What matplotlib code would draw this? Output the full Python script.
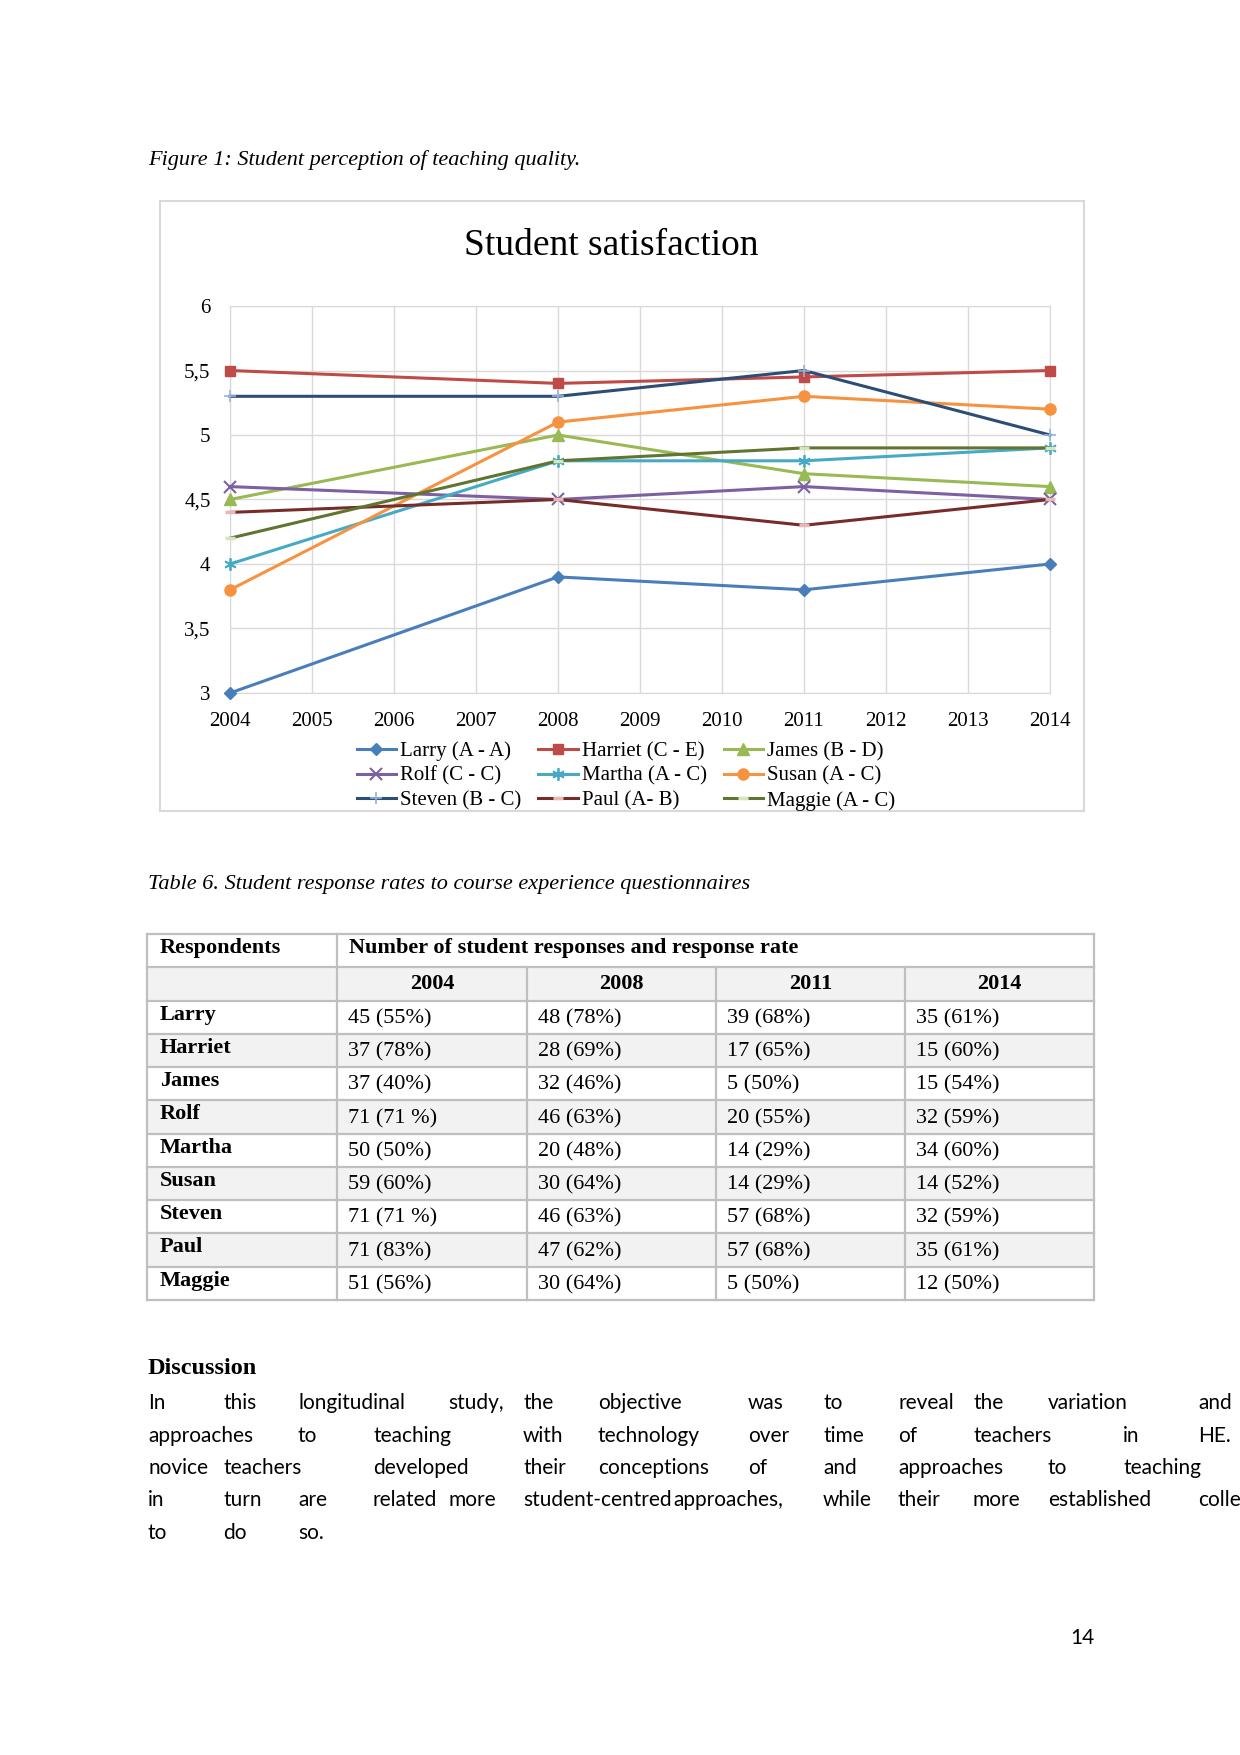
import numpy as np
import matplotlib
matplotlib.use("Agg")
import matplotlib.pyplot as plt
from matplotlib.patches import Rectangle
from matplotlib.ticker import FuncFormatter

# chart data
years = list(range(2004, 2015))
survey_years = [2004, 2008, 2011, 2014]
larry = [3.0, 3.9, 3.8, 4.0]
harriet = [5.5, 5.4, 5.45, 5.5]
james = [4.5, 5.0, 4.7, 4.6]
rolf = [4.6, 4.5, 4.6, 4.5]
martha = [4.0, 4.8, 4.8, 4.9]
susan = [3.8, 5.1, 5.3, 5.2]
steven = [5.3, 5.3, 5.5, 5.0]
paul = [4.4, 4.5, 4.3, 4.5]
maggie = [4.2, 4.8, 4.9, 4.9]

# table data
respondents = ["Larry", "Harriet", "James", "Rolf", "Martha", "Susan", "Steven", "Paul", "Maggie"]
table_years = ["2004", "2008", "2011", "2014"]
resp_2004 = ["45 (55%)", "37 (78%)", "37 (40%)", "71 (71 %)", "50 (50%)", "59 (60%)", "71 (71 %)", "71 (83%)", "51 (56%)"]
resp_2008 = ["48 (78%)", "28 (69%)", "32 (46%)", "46 (63%)", "20 (48%)", "30 (64%)", "46 (63%)", "47 (62%)", "30 (64%)"]
resp_2011 = ["39 (68%)", "17 (65%)", "5 (50%)", "20 (55%)", "14 (29%)", "14 (29%)", "57 (68%)", "57 (68%)", "5 (50%)"]
resp_2014 = ["35 (61%)", "15 (60%)", "15 (54%)", "32 (59%)", "34 (60%)", "14 (52%)", "32 (59%)", "35 (61%)", "12 (50%)"]

# discussion paragraph: (word, slot on the justified grid)
disc_lines = [
    [("In", 0), ("this", 1), ("longitudinal", 2), ("study,", 4), ("the", 5), ("objective", 6),
     ("was", 8), ("to", 9), ("reveal", 10), ("the", 11), ("variation", 12), ("and", 14)],
    [("approaches", 0), ("to", 2), ("teaching", 3), ("with", 5), ("technology", 6), ("over", 8),
     ("time", 9), ("of", 10), ("teachers", 11), ("in", 13), ("HE.", 14)],
    [("novice", 0), ("teachers", 1), ("developed", 3), ("their", 5), ("conceptions", 6), ("of", 8),
     ("and", 9), ("approaches", 10), ("to", 12), ("teaching", 13)],
    [("in", 0), ("turn", 1), ("are", 2), ("related", 3), ("more", 4), ("student-centred", 5),
     ("approaches,", 7), ("while", 9), ("their", 10), ("more", 11), ("established", 12), ("colle", 14)],
    [("to", 0), ("do", 1), ("so.", 2)],
]

SERIF = "Liberation Serif"
SANS = "Lato"

fig = plt.figure(figsize=(12.4, 17.55), dpi=100)
page = fig.add_axes([0, 0, 1, 1], zorder=0)
page.set_xlim(0, 1240)
page.set_ylim(1755, 0)
page.axis("off")

# captions
page.text(148, 160, "Figure 1: Student perception of teaching quality.", fontsize=16,
          family=SERIF, style="italic", va="center")
page.text(148, 884, "Table 6. Student response rates to course experience questionnaires", fontsize=16,
          family=SERIF, style="italic", va="center")

# chart frame and title
page.add_patch(Rectangle((160, 201), 924, 610, fill=False, ec="#D9D9D9", lw=1.5))
page.text(611, 246, "Student satisfaction", fontsize=27, family=SERIF, ha="center", va="center")

ax = fig.add_axes([230 / 1240, 1 - 693 / 1755, 820 / 1240, 387 / 1755], zorder=2)
series = [
    ("Larry (A - A)", larry, "#4A7EBB", dict(marker="D", ms=6.5, mfc="#4A7EBB", mec="#4A7EBB")),
    ("Harriet (C - E)", harriet, "#BE4B48", dict(marker="s", ms=7.5, mfc="#BE4B48", mec="#BE4B48")),
    ("James (B - D)", james, "#98B954", dict(marker="^", ms=8, mfc="#98B954", mec="#98B954")),
    ("Rolf (C - C)", rolf, "#7D60A0", dict(marker="x", ms=8, mew=1.5, mec="#7D60A0")),
    ("Martha (A - C)", martha, "#46AAC5", dict(marker=(6, 2, 0), ms=9, mew=1.3, mec="#46AAC5")),
    ("Susan (A - C)", susan, "#F69240", dict(marker="o", ms=8, mfc="#F69240", mec="#F69240")),
    ("Steven (B - C)", steven, "#2C4D75", dict(marker="+", ms=9, mew=1.2, mec="#95B3D7")),
    ("Paul (A- B)", paul, "#772C2A", dict(marker="_", ms=7, mew=2.5, mec="#E6B9B8")),
    ("Maggie (A - C)", maggie, "#5F7530", dict(marker="_", ms=7, mew=2.5, mec="#D7E4BD")),
]
handles = {}
for label, vals, color, mk in series:
    (h,) = ax.plot(survey_years, vals, color=color, lw=2.2, label=label, clip_on=False, zorder=3, **mk)
    handles[label] = h

ax.set_xlim(2004, 2014)
ax.set_ylim(3, 6)
ax.set_xticks(years)
ax.set_yticks(np.arange(3, 6.01, 0.5))
ax.yaxis.set_major_formatter(FuncFormatter(lambda v, p: f"{v:g}".replace(".", ",")))
ax.grid(True, color="#D9D9D9", lw=1)
ax.set_axisbelow(True)
for s in ax.spines.values():
    s.set_color("#D9D9D9")
ax.tick_params(length=0, labelsize=15)
ax.tick_params(axis="y", pad=14)
ax.tick_params(axis="x", pad=14)
for t in ax.get_xticklabels() + ax.get_yticklabels():
    t.set_family(SERIF)

order = ["Larry (A - A)", "Rolf (C - C)", "Steven (B - C)",
         "Harriet (C - E)", "Martha (A - C)", "Paul (A- B)",
         "James (B - D)", "Susan (A - C)", "Maggie (A - C)"]
fig.legend([handles[k] for k in order], order, ncol=3, loc="center",
           bbox_to_anchor=(626 / 1240, 1 - 776 / 1755), frameon=False,
           prop={"family": SERIF, "size": 15}, handlelength=1.9, handletextpad=0.2,
           columnspacing=0.8, labelspacing=0.24, borderaxespad=0)

# table
col_x = [147, 337, 527, 716, 905, 1094]
top, bottom = 934, 1300
row_h = (bottom - top) / 11
row_y = [top + i * row_h for i in range(12)]
grey_rows = [1, 3, 5, 7, 9]
for r in grey_rows:
    page.add_patch(Rectangle((col_x[0], row_y[r]), col_x[-1] - col_x[0], row_h,
                             fc="#F2F2F2", ec="none"))
lc = "#BFBFBF"
for y in row_y:
    page.plot([col_x[0], col_x[-1]], [y, y], color=lc, lw=1.6)
for i, x in enumerate(col_x):
    y0 = row_y[0] if i in (0, 1, 5) else row_y[1]
    page.plot([x, x], [y0, bottom], color=lc, lw=1.6)

page.text(160, row_y[0] + 14, "Respondents", fontsize=16, family=SERIF, weight="bold", va="center")
page.text(349, row_y[0] + 14, "Number of student responses and response rate", fontsize=16,
          family=SERIF, weight="bold", va="center")
for j, yr in enumerate(table_years):
    page.text((col_x[j + 1] + col_x[j + 2]) / 2, row_y[1] + 17, yr, fontsize=16, family=SERIF,
              weight="bold", ha="center", va="center")
cols = [resp_2004, resp_2008, resp_2011, resp_2014]
for i, name in enumerate(respondents):
    yt = row_y[i + 2]
    page.text(160, yt + 14, name, fontsize=16, family=SERIF, weight="bold", va="center")
    for j, col in enumerate(cols):
        page.text(col_x[j + 1] + 11, yt + 18, col[i], fontsize=16, family=SERIF, va="center")

# discussion
page.text(148, 1369, "Discussion", fontsize=17.5, family=SERIF, weight="bold", va="center")
line_y = [1403, 1436, 1468, 1500, 1533]
for y, words in zip(line_y, disc_lines):
    for w, slot in words:
        page.text(148 + 75 * slot, y, w, fontsize=15, family=SANS, va="center")

page.text(1070, 1638, "14", fontsize=15, family=SANS, va="center")

fig.savefig("out.png", dpi=100)
